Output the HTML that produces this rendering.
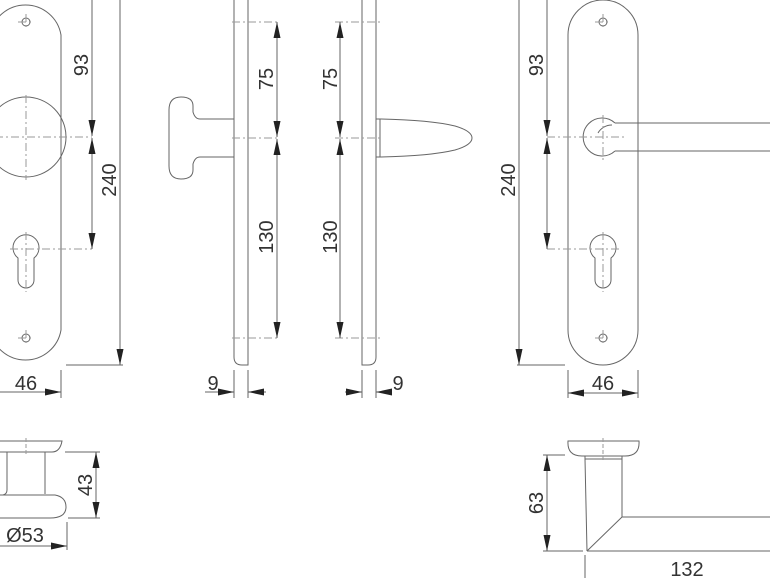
<!DOCTYPE html>
<html><head><meta charset="utf-8"><style>
html,body{margin:0;padding:0;background:#fff;}
svg{display:block;}
text{font-family:"Liberation Sans",sans-serif;font-size:20px;fill:#333;}
</style></head><body>
<svg width="770" height="578" viewBox="0 0 770 578" xmlns="http://www.w3.org/2000/svg">
<defs>
<marker id="a" viewBox="0 0 16 7" refX="16" refY="3.5" markerWidth="16" markerHeight="7" markerUnits="userSpaceOnUse" orient="auto-start-reverse"><path d="M0,0L16,3.5L0,7z" fill="#222"/></marker>
</defs>
<g fill="none" stroke="#666" stroke-width="1">
<!-- LEFT PLATE -->
<path d="M-10,35 A36,36 0 0 1 61,35 L61,330 A36,36 0 0 1 -10,330 Z"/>
<circle cx="26" cy="137" r="40"/>
<circle cx="26" cy="22" r="4"/><circle cx="26" cy="338" r="4"/>
<path d="M18,258 A13,13 0 1 1 34,258 L34,280 A8,8 0 0 1 18,280 Z"/>
<g stroke-dasharray="8,3,2,3" stroke="#999">
<line x1="-5" y1="137" x2="92" y2="137"/><line x1="26" y1="95" x2="26" y2="180"/>
<line x1="10" y1="249" x2="92" y2="249"/><line x1="26" y1="232" x2="26" y2="292"/>
<line x1="18" y1="22" x2="34" y2="22"/><line x1="26" y1="14" x2="26" y2="30"/>
<line x1="18" y1="338" x2="34" y2="338"/><line x1="26" y1="330" x2="26" y2="346"/>
</g>
<line x1="92" y1="0" x2="92" y2="136" marker-end="url(#a)"/>
<line x1="92" y1="138" x2="92" y2="249" marker-start="url(#a)" marker-end="url(#a)"/>
<line x1="120" y1="0" x2="120" y2="365" marker-end="url(#a)"/>
<line x1="66" y1="365" x2="123" y2="365"/>
<line x1="61" y1="370" x2="61" y2="398"/>
<line x1="0" y1="392" x2="61" y2="392" marker-end="url(#a)"/>

<!-- SIDE 1 (knob) -->
<path d="M248,0 L248,365 L242,365 Q234,365 234,357 L234,0"/>
<path d="M234,119 L200,119 Q195,119 193,112 L193,106 Q193,97 181,97 Q169,97 169,110 L169,166 Q169,179 181,179 Q193,179 193,170 L193,164 Q195,157 200,157 L234,157"/>
<g stroke-dasharray="8,3,2,3" stroke="#999">
<line x1="232" y1="22" x2="280" y2="22"/><line x1="232" y1="138" x2="280" y2="138"/><line x1="232" y1="338" x2="280" y2="338"/>
</g>
<line x1="277" y1="22" x2="277" y2="137" marker-start="url(#a)" marker-end="url(#a)"/>
<line x1="277" y1="139" x2="277" y2="338" marker-start="url(#a)" marker-end="url(#a)"/>
<line x1="234" y1="370" x2="234" y2="398"/><line x1="248" y1="370" x2="248" y2="398"/>
<line x1="205" y1="392" x2="234" y2="392" marker-end="url(#a)"/>
<line x1="266" y1="392" x2="248" y2="392" marker-end="url(#a)"/>

<!-- SIDE 2 (lever) -->
<path d="M362,0 L362,365 L368,365 Q376,365 376,357 L376,0"/>
<path d="M376,119 L380,119 L380,157 M376,119 L380,119 Q430,120 455,126 Q472,131 472,138 Q472,145 455,150 Q430,156 380,157 L376,157"/>
<g stroke-dasharray="8,3,2,3" stroke="#999">
<line x1="335" y1="22" x2="380" y2="22"/><line x1="335" y1="138" x2="382" y2="138"/><line x1="335" y1="338" x2="380" y2="338"/>
</g>
<line x1="340" y1="22" x2="340" y2="137" marker-start="url(#a)" marker-end="url(#a)"/>
<line x1="340" y1="139" x2="340" y2="338" marker-start="url(#a)" marker-end="url(#a)"/>
<line x1="362" y1="370" x2="362" y2="398"/><line x1="376" y1="370" x2="376" y2="398"/>
<line x1="345" y1="392" x2="362" y2="392" marker-end="url(#a)"/>
<line x1="392" y1="392" x2="376" y2="392" marker-end="url(#a)"/>

<!-- RIGHT PLATE -->
<path d="M568,35 A35,35 0 0 1 638,35 L638,330 A35,35 0 0 1 568,330 Z"/>
<circle cx="603" cy="22" r="4"/><circle cx="603" cy="338" r="4"/>
<path d="M595,258 A13,13 0 1 1 611,258 L611,280 A8,8 0 0 1 595,280 Z"/>
<path d="M615,123 A19,19 0 1 0 615,151"/>
<path d="M612,125 A16,16 0 0 0 598,133"/>
<path d="M615,123 L770,123 M615,151 L770,151"/>
<g stroke-dasharray="8,3,2,3" stroke="#999">
<line x1="547" y1="137" x2="627" y2="137"/><line x1="603" y1="115" x2="603" y2="160"/>
<line x1="547" y1="249" x2="620" y2="249"/><line x1="603" y1="232" x2="603" y2="292"/>
<line x1="595" y1="22" x2="611" y2="22"/><line x1="603" y1="14" x2="603" y2="30"/>
<line x1="595" y1="338" x2="611" y2="338"/><line x1="603" y1="330" x2="603" y2="346"/>
</g>
<line x1="547" y1="0" x2="547" y2="136" marker-end="url(#a)"/>
<line x1="547" y1="138" x2="547" y2="249" marker-start="url(#a)" marker-end="url(#a)"/>
<line x1="519" y1="0" x2="519" y2="365" marker-end="url(#a)"/>
<line x1="517" y1="365" x2="565" y2="365"/>
<line x1="568" y1="370" x2="568" y2="398"/><line x1="638" y1="370" x2="638" y2="398"/>
<line x1="568" y1="393" x2="603" y2="393" marker-start="url(#a)"/>
<line x1="603" y1="393" x2="638" y2="393" marker-end="url(#a)"/>

<!-- BOTTOM LEFT -->
<path d="M-2,441 L62,441 Q60,452 52,452 L-2,452"/>
<path d="M7,452 L7,490 Q7,494 3,495 M45,452 L45,494"/>
<path d="M-2,495 L55,495 Q66,497 66,507 Q66,518 50,518 L-2,518"/>
<line x1="26" y1="438" x2="26" y2="456" stroke-dasharray="4,2" stroke="#999"/>
<line x1="65" y1="452" x2="100" y2="452"/><line x1="68" y1="518" x2="100" y2="518"/>
<line x1="96" y1="452" x2="96" y2="518" marker-start="url(#a)" marker-end="url(#a)"/>
<line x1="67" y1="522" x2="67" y2="550"/>
<line x1="0" y1="546" x2="67" y2="546" marker-end="url(#a)"/>

<!-- BOTTOM RIGHT -->
<path d="M568,441 L639,441 Q640,456 625,456 L582,456 Q567,456 568,441 Z"/>
<path d="M585,456 L585,459 L622,459 L622,456"/>
<path d="M585,459 L587,551 M622,459 L622,517 L770,517 M587,551 L770,551 M622,517 L587,551"/>
<line x1="603" y1="438" x2="603" y2="462" stroke-dasharray="4,2" stroke="#999"/>
<line x1="543" y1="455" x2="565" y2="455"/><line x1="543" y1="551" x2="583" y2="551"/>
<line x1="547" y1="455" x2="547" y2="551" marker-start="url(#a)" marker-end="url(#a)"/>
<line x1="585" y1="555" x2="585" y2="578"/>
</g>
<g>
<text transform="translate(88,65) rotate(-90)" text-anchor="middle">93</text>
<text transform="translate(116,180) rotate(-90)" text-anchor="middle">240</text>
<text x="26" y="390" text-anchor="middle">46</text>
<text transform="translate(273,79) rotate(-90)" text-anchor="middle">75</text>
<text transform="translate(273,237) rotate(-90)" text-anchor="middle">130</text>
<text x="213" y="390" text-anchor="middle">9</text>
<text transform="translate(337,79) rotate(-90)" text-anchor="middle">75</text>
<text transform="translate(337,237) rotate(-90)" text-anchor="middle">130</text>
<text x="398" y="390" text-anchor="middle">9</text>
<text transform="translate(543,65) rotate(-90)" text-anchor="middle">93</text>
<text transform="translate(515,180) rotate(-90)" text-anchor="middle">240</text>
<text x="603" y="390" text-anchor="middle">46</text>
<text transform="translate(92,485) rotate(-90)" text-anchor="middle">43</text>
<text x="25" y="542" text-anchor="middle">Ø53</text>
<text transform="translate(543,503) rotate(-90)" text-anchor="middle">63</text>
<text x="687" y="576" text-anchor="middle">132</text>
</g>
</svg>
</body></html>
